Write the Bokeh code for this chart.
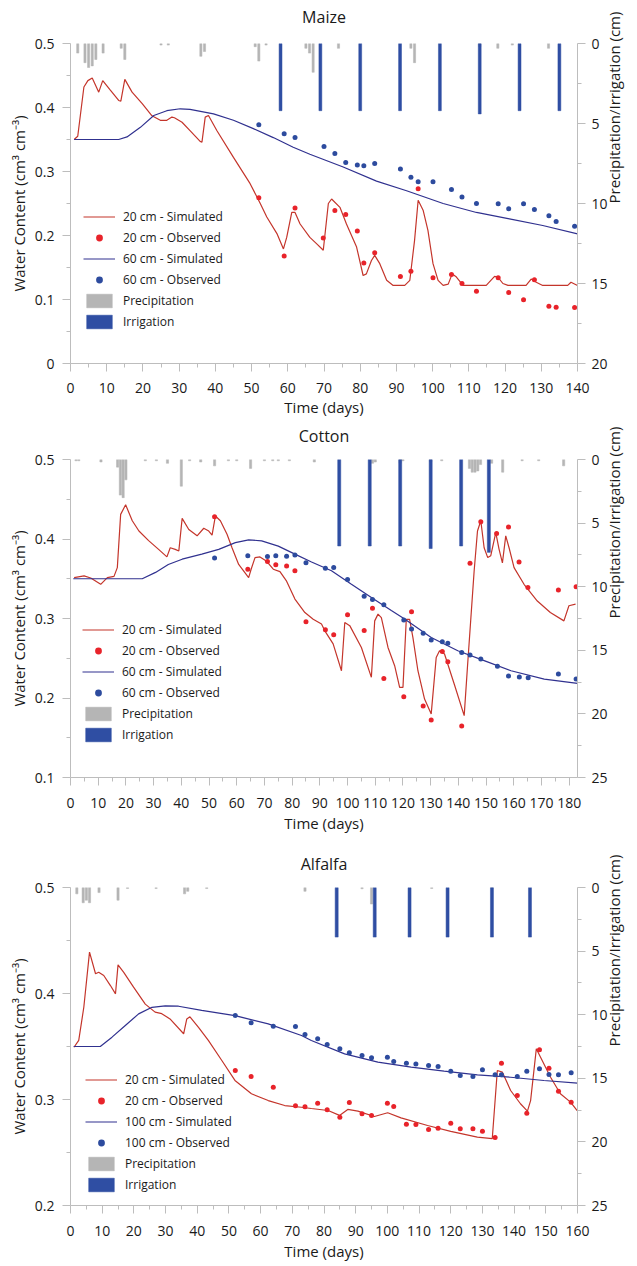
import math
from bokeh.plotting import figure
from bokeh.models import (Range1d, LinearAxis, FixedTicker, Legend, LegendItem,
                          NumeralTickFormatter)
from bokeh.layouts import column
from bokeh.embed import file_html
from bokeh.resources import INLINE

# ---------------- DATA ----------------
# Maize
maize_sim20_day = [1, 2, 3.7, 4.8, 6, 7.8, 8.9, 11, 13.3, 13.9, 15, 17, 19.8, 22.5, 24.8, 26.6, 28, 28.7, 30.8, 33,
                   35.8, 36.3, 37.2, 38.1, 40.4, 45, 49.6, 52.4, 54.2, 57, 58.8, 59.7, 61.1, 62, 63.4, 66.1, 68, 69.8,
                   71.2, 72.1, 74.4, 76.2, 79, 80.8, 81.7, 83.1, 84, 85.4, 87.3, 89.1, 92.3, 93.7, 95, 96, 97.4, 98.7,
                   100.1, 101.5, 102.9, 104.3, 105.4, 106.4, 108.4, 114.8, 117.1, 118, 119.4, 120.8, 125.8, 127.2,
                   128.6, 130.4, 137.3, 138.2, 140]
maize_sim20_wc = [0.35, 0.355, 0.432, 0.442, 0.446, 0.424, 0.442, 0.427, 0.411, 0.41, 0.444, 0.424, 0.406, 0.387,
                  0.380, 0.380, 0.385, 0.384, 0.377, 0.364, 0.347, 0.346, 0.385, 0.3875, 0.364, 0.322, 0.281, 0.25,
                  0.229, 0.203, 0.179, 0.197, 0.236, 0.236, 0.218, 0.197, 0.187, 0.177, 0.25, 0.257, 0.244, 0.218,
                  0.182, 0.1375, 0.14, 0.161, 0.169, 0.156, 0.13, 0.122, 0.122, 0.13, 0.192, 0.255, 0.239, 0.208,
                  0.156, 0.13, 0.122, 0.124, 0.14, 0.136, 0.122, 0.122, 0.136, 0.135, 0.125, 0.122, 0.122, 0.132,
                  0.127, 0.122, 0.122, 0.127, 0.122]
maize_obs20_day = [52, 59, 62, 69.8, 73, 76, 79.2, 81, 84, 91.1, 94, 96, 100.1, 105.2, 108.1, 112.1, 118.1, 121,
                   125.1, 128.1, 132.1, 134.1, 139.2]
maize_obs20_wc = [0.259, 0.168, 0.243, 0.196, 0.239, 0.233, 0.207, 0.157, 0.173, 0.136, 0.144, 0.273, 0.134, 0.139,
                  0.125, 0.113, 0.134, 0.111, 0.0995, 0.131, 0.0895, 0.088, 0.0875]
maize_sim60_day = [1, 13.3, 15.6, 19.3, 23, 26.6, 30.3, 33, 39.5, 45, 50.5, 56, 61.5, 66.1, 75.3, 84.5, 92.8, 102.9,
                   112.1, 121.2, 130.4, 140]
maize_sim60_wc = [0.35, 0.35, 0.354, 0.369, 0.3875, 0.395, 0.398, 0.397, 0.39, 0.38, 0.367, 0.353, 0.338, 0.327,
                  0.307, 0.285, 0.27, 0.25, 0.236, 0.226, 0.2156, 0.2026]
maize_obs60_day = [52, 59, 62, 70, 73, 76, 79.2, 81, 84, 91.1, 94, 96, 100.1, 105.2, 108.1, 112.1, 118.1, 121, 125.1,
                   128.1, 132.1, 134.1, 139.2]
maize_obs60_wc = [0.373, 0.359, 0.353, 0.339, 0.328, 0.314, 0.31, 0.309, 0.3125, 0.304, 0.291, 0.284, 0.284, 0.272,
                  0.26, 0.25, 0.2495, 0.2417, 0.2495, 0.2406, 0.231, 0.222, 0.2145]
maize_precip_day = [2, 4, 5, 6, 7, 9, 14, 15, 25, 27, 36, 37, 51, 52, 54, 65, 66, 67, 74, 94, 95, 113, 118, 122, 132]
maize_precip_cm = [0.6, 1.2, 1.5, 1.4, 1.0, 0.6, 0.3, 1.0, 0.1, 0.1, 0.8, 0.5, 0.2, 1.1, 0.1, 0.3, 0.6, 1.8, 0.3,
                   0.3, 1.2, 0.2, 0.3, 0.1, 0.3]
maize_irr_day = [58, 69, 80, 91, 102, 113, 124, 135]
maize_irr_cm = [4.2, 4.2, 4.2, 4.2, 4.2, 4.4, 4.2, 4.2]

# Cotton
cotton_sim20_day = [1.3, 4.9, 7.3, 10.9, 13.3, 15.7, 16.9, 18.1, 19.9, 22.3, 24.7, 28.2, 31.8, 34.8, 36, 37.8, 39.1,
                    40.3, 42.7, 45.7, 48.1, 49.9, 51.1, 52.3, 54.1, 56.5, 58.3, 60.7, 64.3, 65.2, 66.6, 68.4, 70.8,
                    73.2, 75.6, 78, 81, 84.6, 87.6, 90.6, 91.8, 94.8, 97.8, 99, 100.8, 105, 108.6, 109.8, 111, 112.2,
                    114.6, 117, 118.8, 120, 121.2, 122.4, 123.6, 125.4, 127.8, 130.2, 132, 133.2, 135, 138.5, 142.1,
                    143.3, 144.5, 145.7, 146.9, 148.1, 149.3, 150.6, 151.7, 153.5, 154.7, 155.9, 157.1, 158.3, 160.1,
                    163.7, 168.5, 173.2, 178.1, 179.9, 182.3]
cotton_sim20_wc = [0.3515, 0.3536, 0.351, 0.343, 0.3515, 0.353, 0.364, 0.431, 0.443, 0.423, 0.410, 0.398, 0.387,
                   0.3775, 0.389, 0.387, 0.385, 0.426, 0.412, 0.404, 0.4135, 0.41, 0.405, 0.429, 0.423, 0.406, 0.389,
                   0.368, 0.3515, 0.362, 0.3766, 0.3775, 0.372, 0.362, 0.359, 0.347, 0.3244, 0.3075, 0.299, 0.293,
                   0.2845, 0.268, 0.2343, 0.295, 0.291, 0.2636, 0.226, 0.297, 0.3055, 0.301, 0.2636, 0.2406, 0.2134,
                   0.2134, 0.299, 0.299, 0.276, 0.2343, 0.1987, 0.18, 0.251, 0.2594, 0.2553, 0.2176, 0.1778, 0.24,
                   0.30, 0.36, 0.41, 0.423, 0.389, 0.3766, 0.379, 0.408, 0.387, 0.37, 0.404, 0.389, 0.364, 0.343,
                   0.322, 0.3075, 0.297, 0.316, 0.318]
cotton_obs20_day = [52, 64, 71.1, 74.1, 78, 81, 85, 92, 95, 100, 106, 109, 113.1, 120.3, 123.1, 127.3, 130.2, 134.2,
                    136.2, 141.2, 144.2, 148.1, 153.8, 158.1, 161.9, 165.1, 176.1, 182.5]
cotton_obs20_wc = [0.428, 0.362, 0.3716, 0.3675, 0.366, 0.36, 0.296, 0.2858, 0.2795, 0.3046, 0.285, 0.313, 0.2246,
                   0.2016, 0.3084, 0.19, 0.1724, 0.2586, 0.2456, 0.1648, 0.3696, 0.4218, 0.4068, 0.415, 0.371, 0.339,
                   0.3357, 0.34]
cotton_sim60_day = [1, 25.9, 30.7, 35.3, 40.3, 47.4, 53.5, 59.5, 64.3, 69, 75, 81, 87, 94.2, 101.4, 108.6, 115.8,
                    120.6, 130.2, 139.8, 149.3, 159, 171, 183]
cotton_sim60_wc = [0.35, 0.35, 0.358, 0.368, 0.3746, 0.381, 0.387, 0.3955, 0.399, 0.3976, 0.391, 0.381, 0.371, 0.36,
                   0.343, 0.3264, 0.31, 0.2993, 0.276, 0.2594, 0.247, 0.2343, 0.2238, 0.2184]
cotton_obs60_day = [52, 64, 71.1, 74.1, 78, 81, 85, 92, 95, 100, 106, 109, 113.1, 120.3, 123.1, 127.3, 130.2, 134.2,
                    136.2, 141.2, 144.2, 148.1, 154.1, 158.1, 162, 165.2, 176.1, 182.5]
cotton_obs60_wc = [0.376, 0.3788, 0.378, 0.379, 0.3784, 0.38, 0.37, 0.3633, 0.364, 0.349, 0.328, 0.3238, 0.3172,
                   0.298, 0.2867, 0.2816, 0.2729, 0.2707, 0.269, 0.2573, 0.254, 0.249, 0.24, 0.2276, 0.2264, 0.2255,
                   0.2302, 0.2239]
cotton_precip_day = [2, 3, 11, 17, 18, 19, 20, 27, 31, 35, 40, 43, 47, 52, 57, 60, 65, 70, 73, 75, 79, 88, 109, 110,
                     119, 120, 130, 134, 144, 145, 146, 147, 148, 152, 156, 163, 169, 178]
cotton_precip_cm = [0.1, 0.1, 0.2, 0.6, 2.8, 3.0, 1.6, 0.1, 0.1, 0.3, 2.1, 0.1, 0.2, 0.5, 0.1, 0.1, 0.7, 0.1, 0.1,
                    0.1, 0.1, 0.2, 0.3, 0.2, 0.3, 0.1, 0.2, 0.1, 0.7, 1.0, 1.0, 0.9, 0.4, 0.3, 1.0, 0.1, 0.1, 0.5]
cotton_irr_day = [97, 108, 119, 130, 141, 151]
cotton_irr_cm = [6.8, 6.8, 6.8, 7.0, 6.8, 7.3]

# Alfalfa
alfalfa_sim20_day = [1.1, 2.6, 4.2, 6.0, 7.9, 8.9, 10.5, 12.6, 14.2, 15.0, 16.8, 19.9, 23.6, 26.7, 28.8, 31.4, 35.7,
                     36.7, 37.7, 40.4, 43.5, 47.7, 51.9, 57.1, 62.4, 67.6, 72.9, 76.0, 81.3, 84.9, 87.5, 90.7, 95.9,
                     100.1, 104.3, 112.7, 120.0, 128.4, 133.1, 134.7, 136.3, 138.9, 142.0, 144.2, 145.2, 147.0, 148.3,
                     151.5, 154.6, 157.8, 159.9]
alfalfa_sim20_wc = [0.3493, 0.3557, 0.387, 0.439, 0.4186, 0.42, 0.417, 0.4075, 0.3997, 0.427, 0.42, 0.406, 0.39,
                    0.3824, 0.381, 0.376, 0.362, 0.376, 0.378, 0.368, 0.3557, 0.337, 0.318, 0.3054, 0.299, 0.2943,
                    0.2927, 0.2915, 0.2896, 0.285, 0.2906, 0.289, 0.284, 0.2875, 0.2827, 0.2755, 0.270, 0.2645, 0.263,
                    0.3274, 0.3258, 0.3085, 0.296, 0.289, 0.299, 0.3478, 0.340, 0.321, 0.3054, 0.2975, 0.2896]
alfalfa_obs_day = [52, 57, 64, 71, 74, 78, 81, 85, 88, 92, 95, 100, 102, 106, 109, 113, 116, 120, 123, 127, 130, 134,
                   136, 141, 144, 148, 151, 154, 158]
alfalfa_obs20_wc = [0.3274, 0.3217, 0.3116, 0.294, 0.2931, 0.2965, 0.2903, 0.2833, 0.2972, 0.2865, 0.2849, 0.2965,
                    0.2934, 0.2767, 0.2764, 0.2717, 0.2729, 0.2776, 0.2723, 0.2723, 0.270, 0.2642, 0.3343, 0.3038,
                    0.2871, 0.3469, 0.3295, 0.3078, 0.2975]
alfalfa_sim100_day = [1, 9.4, 13.1, 17.3, 21.5, 25.7, 29.9, 34.1, 41.4, 51.9, 62.4, 72.9, 76, 86.5, 97, 107.5, 117.9,
                      128.4, 138.9, 149.4, 160]
alfalfa_sim100_wc = [0.35, 0.35, 0.3588, 0.3698, 0.3808, 0.387, 0.3884, 0.388, 0.384, 0.3792, 0.3714, 0.3604,
                     0.3557, 0.343, 0.3352, 0.3305, 0.3267, 0.3233, 0.321, 0.3179, 0.3154]
alfalfa_obs100_wc = [0.3792, 0.3724, 0.3692, 0.3689, 0.3613, 0.3573, 0.3519, 0.3478, 0.344, 0.3415, 0.3393, 0.3399,
                     0.3358, 0.3342, 0.3336, 0.3321, 0.3311, 0.3267, 0.3226, 0.3217, 0.328, 0.3233, 0.3233, 0.3217,
                     0.3267, 0.329, 0.3236, 0.3233, 0.3252]
alfalfa_precip_day = [2, 4, 5, 6, 9, 15, 18, 27, 36, 37, 43, 74, 92, 95, 114, 133]
alfalfa_precip_cm = [0.5, 1.2, 1.0, 1.2, 0.4, 1.0, 0.08, 0.08, 0.5, 0.3, 0.08, 0.3, 0.1, 1.3, 0.08, 0.08]
alfalfa_irr_day = [84, 96, 107, 119, 133, 145]
alfalfa_irr_cm = [3.9, 3.9, 3.9, 3.9, 3.9, 3.9]

# ---------------- STYLE ----------------
FONT = "Open Sans"
TEXT = "#1a1a1a"
AXIS = "#bdbdbd"
RED_LINE = "#c4352b"
RED_DOT = "#e8232a"
BLUE_LINE = "#30318f"
BLUE_DOT = "#2d4b9e"
IRR = "#2f4ea3"
PRE = "#b5b5b5"


def style_axis(ax, ticks, minor, lab_standoff=9, ax_standoff=3):
    ax.ticker = FixedTicker(ticks=ticks, minor_ticks=minor)
    ax.axis_line_color = AXIS
    ax.major_tick_line_color = AXIS
    ax.minor_tick_line_color = AXIS
    ax.major_tick_out = 8
    ax.major_tick_in = 0
    ax.minor_tick_out = 4
    ax.minor_tick_in = 0
    ax.major_label_text_font = FONT
    ax.major_label_text_font_size = "14px"
    ax.major_label_text_color = TEXT
    ax.major_label_standoff = lab_standoff
    ax.axis_label_text_font = FONT
    ax.axis_label_text_font_size = "15px"
    ax.axis_label_text_font_style = "normal"
    ax.axis_label_text_color = TEXT
    ax.axis_label_standoff = ax_standoff


def panel(title, xmax, xticks, ymin, yticks, rmax, rticks,
          sim_a, obs_a, sim_b, obs_b, precip, irr, labels,
          height, borders, legend_loc, pre_w, irr_w, title_standoff, xstand):
    left, right, top, bottom = borders
    p = figure(width=637, height=height, output_backend="svg", toolbar_location=None,
               x_range=Range1d(0, xmax), y_range=Range1d(ymin, 0.5),
               min_border_left=left, min_border_right=right,
               min_border_top=top, min_border_bottom=bottom)
    p.outline_line_color = None
    p.grid.visible = False
    p.background_fill_color = "white"
    p.border_fill_color = "white"

    xa = p.below[0]
    xa.axis_label = "Time (days)"
    style_axis(xa, xticks, [t + 5 for t in xticks[:-1]], lab_standoff=xstand[0], ax_standoff=xstand[1])
    ya = p.left[0]
    ya.axis_label = "Water Content (cm³ cm⁻³)"
    style_axis(ya, yticks, [round(t + 0.05, 3) for t in yticks[:-1]], lab_standoff=8, ax_standoff=3)
    ya.formatter = NumeralTickFormatter(format="0.[0]")

    p.extra_y_ranges = {"pi": Range1d(rmax, 0)}
    rax = LinearAxis(y_range_name="pi", axis_label="Precipitation/Irrigation (cm)")
    p.add_layout(rax, "right")
    style_axis(rax, rticks, [t + 2.5 for t in rticks[:-1]], lab_standoff=6, ax_standoff=3)
    rax.axis_label_orientation = math.pi / 2

    # panel title, drawn as the label of a tick-less axis above the frame
    tax = LinearAxis(axis_label=title, ticker=FixedTicker(ticks=[]))
    tax.axis_line_color = None
    tax.major_tick_line_color = None
    tax.minor_tick_line_color = None
    tax.major_tick_out = 0
    tax.minor_tick_out = 0
    tax.major_label_text_font_size = "0px"
    tax.major_label_standoff = 0
    tax.axis_label_text_font = FONT
    tax.axis_label_text_font_size = "16px"
    tax.axis_label_text_font_style = "normal"
    tax.axis_label_text_color = TEXT
    tax.axis_label_standoff = title_standoff
    p.add_layout(tax, "above")

    r_pre = p.vbar(x=precip[0], top=0, bottom=precip[1], width=pre_w, y_range_name="pi",
                   fill_color=PRE, line_color=PRE, line_width=0.5)
    r_irr = p.vbar(x=irr[0], top=0, bottom=irr[1], width=irr_w, y_range_name="pi",
                   fill_color=IRR, line_color=IRR, line_width=0.5)
    r1 = p.line(sim_a[0], sim_a[1], line_color=RED_LINE, line_width=1.2)
    r2 = p.scatter(obs_a[0], obs_a[1], size=5, fill_color=RED_DOT, line_color=None)
    r3 = p.line(sim_b[0], sim_b[1], line_color=BLUE_LINE, line_width=1.2)
    r4 = p.scatter(obs_b[0], obs_b[1], size=5, fill_color=BLUE_DOT, line_color=None)

    items = [LegendItem(label=labels[0], renderers=[r1]),
             LegendItem(label=labels[1], renderers=[r2]),
             LegendItem(label=labels[2], renderers=[r3]),
             LegendItem(label=labels[3], renderers=[r4]),
             LegendItem(label="Precipitation", renderers=[r_pre]),
             LegendItem(label="Irrigation", renderers=[r_irr])]
    leg = Legend(items=items, location=legend_loc)
    leg.glyph_width = 32
    leg.glyph_height = 17
    leg.label_height = 17
    leg.spacing = 4
    leg.padding = 0
    leg.margin = 0
    leg.label_standoff = 8
    leg.label_text_font = FONT
    leg.label_text_font_size = "12px"
    leg.label_text_color = TEXT
    leg.border_line_color = None
    leg.background_fill_alpha = 0
    p.add_layout(leg, "center")
    return p


p1 = panel("Maize", 140, list(range(0, 141, 10)), 0, [0, 0.1, 0.2, 0.3, 0.4, 0.5], 20, [0, 5, 10, 15, 20],
           (maize_sim20_day, maize_sim20_wc), (maize_obs20_day, maize_obs20_wc),
           (maize_sim60_day, maize_sim60_wc), (maize_obs60_day, maize_obs60_wc),
           (maize_precip_day, maize_precip_cm), (maize_irr_day, maize_irr_cm),
           ["20 cm - Simulated", "20 cm - Observed", "60 cm - Simulated", "60 cm - Observed"],
           420, (70, 59, 43, 57), (13, 33), 0.6, 0.8, 16, (11, 1))

p2 = panel("Cotton", 183, list(range(0, 181, 10)), 0.1, [0.1, 0.2, 0.3, 0.4, 0.5], 25, [0, 5, 10, 15, 20, 25],
           (cotton_sim20_day, cotton_sim20_wc), (cotton_obs20_day, cotton_obs20_wc),
           (cotton_sim60_day, cotton_sim60_wc), (cotton_obs60_day, cotton_obs60_wc),
           (cotton_precip_day, cotton_precip_cm), (cotton_irr_day, cotton_irr_cm),
           ["20 cm - Simulated", "20 cm - Observed", "60 cm - Simulated", "60 cm - Observed"],
           428, (68, 60, 39, 71), (12, 34), 0.8, 1.1, 13, (12, 2))

p3 = panel("Alfalfa", 160, list(range(0, 161, 10)), 0.2, [0.2, 0.3, 0.4, 0.5], 25, [0, 5, 10, 15, 20, 25],
           (alfalfa_sim20_day, alfalfa_sim20_wc), (alfalfa_obs_day, alfalfa_obs20_wc),
           (alfalfa_sim100_day, alfalfa_sim100_wc), (alfalfa_obs_day, alfalfa_obs100_wc),
           (alfalfa_precip_day, alfalfa_precip_cm), (alfalfa_irr_day, alfalfa_irr_cm),
           ["20 cm - Simulated", "20 cm - Observed", "100 cm - Simulated", "100 cm - Observed"],
           418, (68, 60, 39, 61), (15, 12), 0.7, 0.95, 13, (12, 2))

layout = column(p1, p2, p3, spacing=0)
open("out.html", "w").write(file_html(layout, INLINE))
